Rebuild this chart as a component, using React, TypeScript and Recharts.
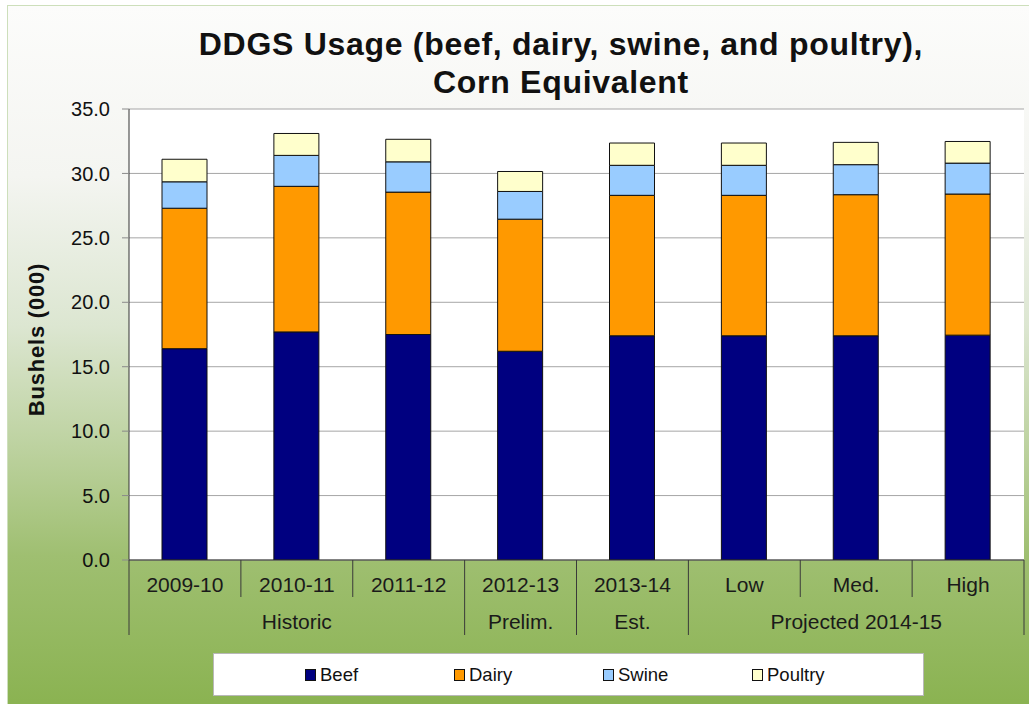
import React from 'react';
import { BarChart, Bar, XAxis, YAxis, CartesianGrid, Legend } from 'recharts';

// Marketing years, and the phase each one belongs to
const periods = ['2009-10', '2010-11', '2011-12', '2012-13', '2013-14', 'Low', 'Med.', 'High'];
const phases = ['Historic', 'Historic', 'Historic', 'Prelim.', 'Est.', 'Projected 2014-15', 'Projected 2014-15', 'Projected 2014-15'];

// Million bushels, corn equivalent
const beef = [16.4, 17.7, 17.5, 16.2, 17.4, 17.4, 17.4, 17.45];
const dairy = [10.9, 11.3, 11.05, 10.25, 10.9, 10.9, 10.95, 10.95];
const swine = [2.05, 2.4, 2.35, 2.15, 2.33, 2.33, 2.33, 2.4];
const poultry = [1.75, 1.7, 1.75, 1.55, 1.73, 1.73, 1.73, 1.68];

const yTicks = [0, 5, 10, 15, 20, 25, 30, 35];

const series = [
  { key: 'beef', name: 'Beef', color: '#000080' },
  { key: 'dairy', name: 'Dairy', color: '#FF9900' },
  { key: 'swine', name: 'Swine', color: '#99CCFF' },
  { key: 'poultry', name: 'Poultry', color: '#FFFFCC' },
];

const data = periods.map((p, i) => ({
  period: p,
  phase: phases[i],
  beef: beef[i],
  dairy: dairy[i],
  swine: swine[i],
  poultry: poultry[i],
}));

const FONT = '"Liberation Sans", Arial, sans-serif';

// two-row category axis: period on top, phase underneath, with divider lines
const PeriodTick = (props: any) => {
  const { x, y, payload, index, width, visibleTicksCount } = props;
  const half = payload?.offset || width / visibleTicksCount / 2;
  const left = x - half;
  const right = x + half;
  const isGroupStart = index === 0 || phases[index] !== phases[index - 1];
  const isLast = index === periods.length - 1;

  let groupLabel = null;
  if (isGroupStart) {
    let n = 1;
    while (index + n < phases.length && phases[index + n] === phases[index]) n++;
    groupLabel = (
      <text x={left + half * n} y={y + 69} textAnchor="middle" fontSize={21} fontFamily={FONT} fill="#1a1a1a">
        {phases[index]}
      </text>
    );
  }

  return (
    <g>
      <line x1={left} x2={left} y1={y} y2={isGroupStart ? y + 75 : y + 37} stroke="#3a3a3a" strokeWidth={1} />
      {isLast && <line x1={right} x2={right} y1={y} y2={y + 75} stroke="#3a3a3a" strokeWidth={1} />}
      <text x={x} y={y + 32} textAnchor="middle" fontSize={21} fontFamily={FONT} fill="#1a1a1a">
        {payload.value}
      </text>
      {groupLabel}
    </g>
  );
};

const YLabel = (props: any) => {
  const { viewBox } = props;
  const cx = viewBox.x - 33;
  const cy = viewBox.y + viewBox.height / 2 + 5;
  return (
    <text x={cx} y={cy} transform={`rotate(-90 ${cx} ${cy})`} textAnchor="middle" dominantBaseline="central"
      fontSize={22} fontWeight="bold" letterSpacing={0.8} fontFamily={FONT} fill="#111">
      Bushels (000)
    </text>
  );
};

const LegendBox = () => (
  <div style={{
    width: 711, height: 43, background: '#fff', border: '1px solid #b8b8b8',
    display: 'flex', alignItems: 'center', paddingLeft: 91, boxSizing: 'border-box',
  }}>
    {series.map(s => (
      <div key={s.key} style={{ width: 149, display: 'flex', alignItems: 'center' }}>
        <span style={{ width: 9, height: 10, background: s.color, border: '1px solid #111', marginRight: 4 }} />
        <span style={{ fontFamily: FONT, fontSize: 18.5, color: '#111' }}>{s.name}</span>
      </div>
    ))}
  </div>
);

export default function App() {
  return (
    <div style={{ position: 'relative', width: 1029, height: 704, overflow: 'hidden', background: '#fff' }}>
      <style>{'body{margin:0}'}</style>
      <div style={{
        position: 'absolute', left: 7, top: 5, width: 1060, height: 740,
        border: '1px solid #cddfbb',
        background: 'linear-gradient(to bottom, #fcfcfb 0px, #f4f5f1 170px, #dce6d1 320px, #bdd2a0 440px, #9fbf71 550px, #8bb352 695px)',
      }} />
      <div style={{
        position: 'absolute', left: 0, top: 25, width: 1122, textAlign: 'center',
        fontFamily: FONT, fontWeight: 'bold', fontSize: 32, letterSpacing: 0.7, lineHeight: '38px', color: '#111',
      }}>
        DDGS Usage (beef, dairy, swine, and poultry),<br />Corn Equivalent
      </div>
      <div style={{ position: 'absolute', left: 0, top: 0 }}>
        <BarChart width={1029} height={704} data={data}
          margin={{ top: 109, right: 5, bottom: 69, left: 69 }} barSize={45}>
          <CartesianGrid vertical={false} stroke="#a6a6a6" fill="#fff" />
          <XAxis dataKey="period" height={75} tickLine={false} tickSize={0} tickMargin={0}
            axisLine={{ stroke: '#333' }} tick={<PeriodTick />} interval={0} />
          <YAxis width={60} domain={[0, 35]} ticks={yTicks} allowDataOverflow
            tickFormatter={(v: number) => v.toFixed(1)}
            tick={{ fill: '#111', fontSize: 20, fontFamily: FONT }}
            tickSize={7} tickMargin={12} tickLine={{ stroke: '#8a8a8a' }}
            axisLine={{ stroke: '#333' }} label={<YLabel />} />
          <YAxis yAxisId="r" orientation="right" width={0} domain={[0, 35]} tick={false}
            tickLine={false} axisLine={{ stroke: '#a6a6a6' }} />
          {series.map(s => (
            <Bar key={s.key} dataKey={s.key} name={s.name} stackId="feed" fill={s.color}
              stroke="#111" strokeWidth={1} isAnimationActive={false} />
          ))}
          <Legend layout="vertical" align="center" verticalAlign="middle" content={<LegendBox />}
            wrapperStyle={{ left: 213, top: 653, width: 711, height: 43 }} />
        </BarChart>
      </div>
    </div>
  );
}
